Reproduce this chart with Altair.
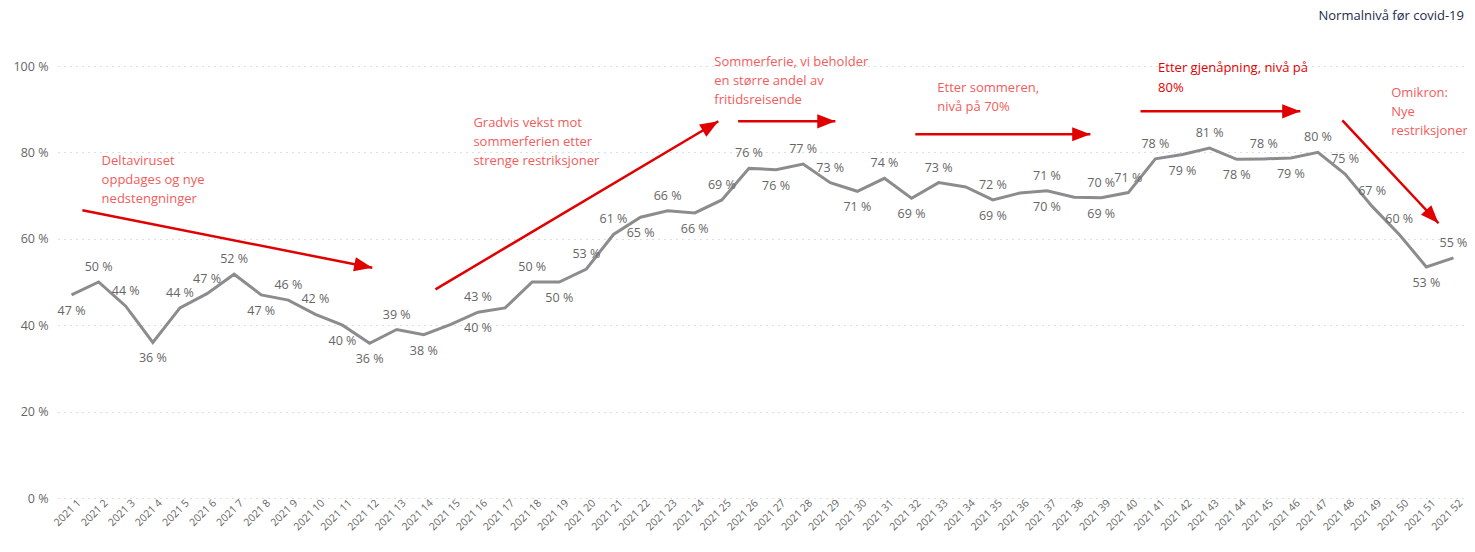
import math
import altair as alt
import pandas as pd

# ---------------- data ----------------
year = "2021"
weeks = list(range(1, 53))
values = [47, 50, 44.4, 36, 44, 47.3, 51.8, 47, 45.8, 42.5,
          40, 35.8, 39, 37.8, 40.2, 43, 44, 50, 50, 53,
          61, 65, 66.5, 66, 69, 76.3, 76, 77.3, 73, 71,
          74, 69.4, 73, 72, 69, 70.6, 71.1, 69.6, 69.5, 70.7,
          78.5, 79.5, 81, 78.4, 78.5, 78.7, 80, 75, 67.5, 61,
          53.5, 55.6]

# data labels as printed on the chart (week, text, side)
label_weeks = [1, 2, 3, 4, 5, 6, 7, 8, 9, 10, 11, 12, 13, 14, 16, 16,
               18, 19, 20, 21, 22, 23, 24, 25, 26, 27, 28, 29, 30, 31, 32, 33,
               35, 35, 37, 37, 39, 39, 40, 41, 42, 43, 44, 45, 46, 47, 48, 49,
               50, 51, 52]
label_texts = ["47 %", "50 %", "44 %", "36 %", "44 %", "47 %", "52 %", "47 %", "46 %",
               "42 %", "40 %", "36 %", "39 %", "38 %", "43 %", "40 %",
               "50 %", "50 %", "53 %", "61 %", "65 %", "66 %", "66 %", "69 %", "76 %",
               "76 %", "77 %", "73 %", "71 %", "74 %", "69 %", "73 %",
               "72 %", "69 %", "71 %", "70 %", "70 %", "69 %", "71 %", "78 %", "79 %",
               "81 %", "78 %", "78 %", "79 %", "80 %", "75 %", "67 %", "60 %", "53 %", "55 %"]
label_sides = ["below", "above", "above", "below", "above", "above", "above", "below", "above",
               "above", "below", "below", "above", "below", "above", "below",
               "above", "below", "above", "above", "below", "above", "below", "above", "above",
               "below", "above", "above", "below", "above", "below", "above",
               "above", "below", "above", "below", "above", "below", "above", "above", "below",
               "above", "below", "above", "below", "above", "above", "above", "above", "below", "above"]

y_ticks = [0, 20, 40, 60, 80, 100]

# annotation arrows (week, percent)
arrow_x1 = [1.4, 14.43, 25.6, 32.14, 40.45, 47.9]
arrow_y1 = [66.6, 48.3, 87.2, 84.2, 89.5, 87.4]
arrow_x2 = [12.1, 24.87, 29.19, 38.6, 46.35, 51.45]
arrow_y2 = [53.3, 87.2, 87.2, 84.2, 89.5, 63.6]

# annotation notes (week, percent of first line top)
note_texts = ["Deltaviruset\noppdages og nye\nnedstengninger",
              "Gradvis vekst mot\nsommerferien  etter\nstrenge restriksjoner",
              "Sommerferie, vi beholder\nen større andel av\nfritidsreisende",
              "Etter sommeren,\nnivå på 70%",
              "Omikron:\nNye\nrestriksjoner"]
note_x = [2.11, 15.83, 24.72, 32.95, 49.7]
note_y = [79.4, 88.1, 102.3, 96.3, 95.2]
key_note_text = ["Etter gjenåpning, nivå på\n80%"]
key_note_x = [41.1]
key_note_y = [100.9]

title_text = "Normalnivå før covid-19"

# ---------------- layout / style ----------------
W, H = 1409, 432
FONT = "Open Sans"
LINE_GRAY = "#8C8C8E"
LABEL_GRAY = "#666666"
ARROW_RED = "#E10000"
NOTE_RED = "#F25C5C"

df = pd.DataFrame({"week": weeks, "value": values})
val_by_week = dict(zip(weeks, values))
lab = pd.DataFrame({"week": label_weeks, "text": label_texts, "side": label_sides})
lab["value"] = [val_by_week[w] for w in label_weeks]

arr = pd.DataFrame({"x1": arrow_x1, "y1": arrow_y1, "x2": arrow_x2, "y2": arrow_y2})
arr["angle"] = [
    (math.degrees(math.atan2(-(b2 - b1) * H / 100.0, (a2 - a1) * W / 52.0)) + 360) % 360
    for a1, b1, a2, b2 in zip(arrow_x1, arrow_y1, arrow_x2, arrow_y2)
]
notes = pd.DataFrame({"x": note_x, "y": note_y, "text": note_texts})
key_notes = pd.DataFrame({"x": key_note_x, "y": key_note_y, "text": key_note_text})
ticks_df = pd.DataFrame({"week": weeks, "lbl": [f"{year} {w}" for w in weeks]})

xscale = alt.Scale(domain=[0.5, 52.5], nice=False, zero=False)
yscale = alt.Scale(domain=[0, 100], nice=False)

x_axis = alt.Axis(values=weeks, labels=False, ticks=False, domain=False, grid=False, title=None)
y_axis = alt.Axis(values=y_ticks, labelExpr="datum.value + ' %'", ticks=False, domain=False,
                  grid=True, gridDash=[1, 5], gridColor="#BDBDBD", gridWidth=1,
                  title=None, labelFontSize=12.5, labelColor=LABEL_GRAY, labelFont=FONT,
                  labelPadding=10)

base = alt.Chart(df)
line = base.mark_line(color=LINE_GRAY, strokeWidth=3).encode(
    x=alt.X("week:Q", scale=xscale, axis=x_axis),
    y=alt.Y("value:Q", scale=yscale, axis=y_axis),
)

# x tick labels (rotated), drawn from the tick label list
x_labels = alt.Chart(ticks_df).mark_text(
    font=FONT, fontSize=10.5, color=LABEL_GRAY, angle=315, align="right",
    baseline="top", dx=3, dy=3
).encode(x=alt.X("week:Q", scale=xscale), y=alt.value(H), text="lbl:N")

lab_base = alt.Chart(lab)
above = lab_base.transform_filter("datum.side == 'above'").mark_text(
    font=FONT, fontSize=12.5, color=LABEL_GRAY, dy=-15, baseline="middle"
).encode(x=alt.X("week:Q", scale=xscale), y=alt.Y("value:Q", scale=yscale), text="text:N")
below = lab_base.transform_filter("datum.side == 'below'").mark_text(
    font=FONT, fontSize=12.5, color=LABEL_GRAY, dy=16, baseline="middle"
).encode(x=alt.X("week:Q", scale=xscale), y=alt.Y("value:Q", scale=yscale), text="text:N")

arrow_lines = alt.Chart(arr).mark_rule(color=ARROW_RED, strokeWidth=2.5).encode(
    x=alt.X("x1:Q", scale=xscale), y=alt.Y("y1:Q", scale=yscale),
    x2="x2:Q", y2="y2:Q",
)
arrow_heads = alt.Chart(arr).mark_point(
    shape="M0,0L-2,-0.78L-2,0.78Z", filled=True, size=330, opacity=1,
    color=ARROW_RED, strokeWidth=0
).encode(
    x=alt.X("x2:Q", scale=xscale), y=alt.Y("y2:Q", scale=yscale),
    angle=alt.Angle("angle:Q", scale=None),
)

note_layer = alt.Chart(notes).mark_text(
    font=FONT, fontSize=13, color=NOTE_RED, align="left", baseline="top",
    lineBreak="\n", lineHeight=19
).encode(x=alt.X("x:Q", scale=xscale), y=alt.Y("y:Q", scale=yscale), text="text:N")
key_note_layer = alt.Chart(key_notes).mark_text(
    font=FONT, fontSize=13, color=ARROW_RED, align="left", baseline="top",
    lineBreak="\n", lineHeight=20
).encode(x=alt.X("x:Q", scale=xscale), y=alt.Y("y:Q", scale=yscale), text="text:N")

title_layer = alt.Chart(pd.DataFrame({"t": [title_text]})).mark_text(
    font=FONT, fontSize=13, color="#252A4E", align="right", baseline="middle"
).encode(x=alt.value(W - 3), y=alt.value(-50), text="t:N")

chart = alt.layer(
    line, x_labels, above, below, arrow_lines, arrow_heads, note_layer, key_note_layer,
    title_layer
).properties(
    width=W, height=H,
    padding={"left": 50, "top": 58, "right": 0, "bottom": 40},
    autosize=alt.AutoSizeParams(type="none"),
    background="white",
).configure_view(stroke=None)

chart.save("out.html", embed_options={"renderer": "svg", "actions": False})
